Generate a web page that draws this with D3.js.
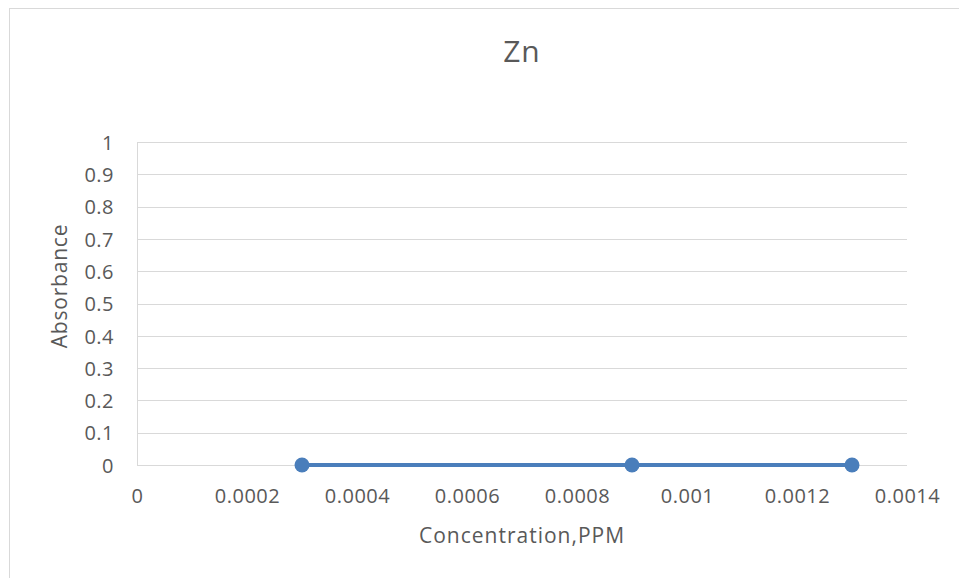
<!DOCTYPE html>
<html>
<head>
<meta charset="utf-8">
<script src="https://cdn.jsdelivr.net/npm/d3@7"></script>
<style>
  body { margin: 0; background: #fff; }
  text { font-family: "Open Sans", sans-serif; fill: #595959; }
</style>
</head>
<body>
<div id="chart"></div>
<script>
// data
var concentration = [0.0003, 0.0009, 0.0013];
var absorbance = [0, 0, 0];
var xTicks = [0, 0.0002, 0.0004, 0.0006, 0.0008, 0.001, 0.0012, 0.0014];
var yTicks = [0, 0.1, 0.2, 0.3, 0.4, 0.5, 0.6, 0.7, 0.8, 0.9, 1];

var W = 959, H = 578;
var margin = {top: 142, right: 52, bottom: 113, left: 137},
    width = W - margin.left - margin.right,
    height = H - margin.top - margin.bottom;

var svg = d3.select("#chart")
  .append("svg")
  .attr("width", W)
  .attr("height", H);

// chart border
svg.append("rect")
  .attr("x", 9.5).attr("y", 8.5)
  .attr("width", W).attr("height", H)
  .attr("fill", "none")
  .attr("stroke", "#d9d9d9");

var g = svg.append("g")
  .attr("transform", "translate(" + margin.left + "," + margin.top + ")");

var x = d3.scaleLinear().domain([0, 0.0014]).range([0, width]);
var y = d3.scaleLinear().domain([0, 1]).range([height, 0]);

// gridlines
g.append("g")
  .selectAll("line")
  .data(yTicks)
  .enter()
  .append("line")
  .attr("x1", 0).attr("x2", width)
  .attr("y1", function (d) { return Math.round(y(d)) + 0.5; })
  .attr("y2", function (d) { return Math.round(y(d)) + 0.5; })
  .attr("stroke", "#d9d9d9");

// y axis line
g.append("line")
  .attr("x1", 0.5).attr("x2", 0.5)
  .attr("y1", 0).attr("y2", height)
  .attr("stroke", "#d9d9d9");

// y tick labels
var yAxis = g.append("g")
  .call(d3.axisLeft(y).tickValues(yTicks).tickSize(0).tickPadding(23).tickFormat(d3.format("")));
yAxis.select(".domain").remove();
yAxis.selectAll("text")
  .style("font-size", "20px").style("letter-spacing", "0.5px")
  .attr("fill", "#595959").attr("dy", "0.36em");

// x tick labels
var xAxis = g.append("g")
  .attr("transform", "translate(0," + height + ")")
  .call(d3.axisBottom(x).tickValues(xTicks).tickSize(0).tickPadding(24)
    .tickFormat(function (d) { return +d.toFixed(4) + ""; }));
xAxis.select(".domain").remove();
xAxis.selectAll("text")
  .style("font-size", "20px").style("letter-spacing", "0.5px")
  .attr("fill", "#595959");

// series
var pts = concentration.map(function (c, i) { return [c, absorbance[i]]; });
g.append("path")
  .datum(pts)
  .attr("fill", "none")
  .attr("stroke", "#4a7ebb")
  .attr("stroke-width", 4)
  .attr("d", d3.line().x(function (d) { return x(d[0]); }).y(function (d) { return y(d[1]); }));

g.selectAll("circle")
  .data(pts)
  .enter()
  .append("circle")
  .attr("cx", function (d) { return x(d[0]); })
  .attr("cy", function (d) { return y(d[1]); })
  .attr("r", 7.5)
  .attr("fill", "#4a7ebb");

// titles
svg.append("text")
  .attr("x", margin.left + width / 2).attr("y", 62)
  .attr("text-anchor", "middle")
  .style("font-size", "30px").style("letter-spacing", "1px")
  .text("Zn");

svg.append("text")
  .attr("x", 522).attr("y", 543)
  .attr("text-anchor", "middle")
  .style("font-size", "21px").style("letter-spacing", "1px")
  .text("Concentration,PPM");

svg.append("text")
  .attr("transform", "translate(67,286) rotate(-90)")
  .attr("text-anchor", "middle")
  .style("font-size", "21px").style("letter-spacing", "0.8px")
  .text("Absorbance");
</script>
</body>
</html>
